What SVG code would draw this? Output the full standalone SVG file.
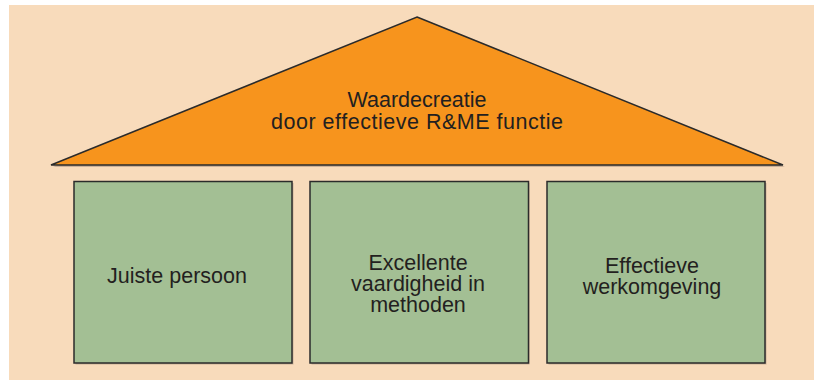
<svg xmlns="http://www.w3.org/2000/svg" width="814" height="380" viewBox="0 0 814 380">
<style>
.bg{fill:#f8dbbb}
.roof{fill:#f7941d;stroke:#2b2b2b;stroke-width:1.5;stroke-linejoin:miter}
.box{fill:#a3bf94;stroke:#2b2b2b;stroke-width:1.5}
.sh{fill:#b8a08a;opacity:0.7}
text{font-family:"Liberation Sans",Arial,sans-serif;font-size:21.5px;fill:#231f20;text-anchor:middle}
</style>
<rect x="0" y="0" width="814" height="380" fill="#ffffff"/>
<rect class="bg" x="9" y="5" width="805" height="375"/>
<g id="roof">
<polygon class="sh" points="418,19 785,167 53,167"/>
<polygon class="roof" points="417,17 783,165 51,165"/>
<text x="417" y="107">Waardecreatie</text>
<text x="417" y="129" textLength="292" lengthAdjust="spacing">door effectieve R&amp;ME functie</text>
</g>
<g id="pillar1">
<rect class="sh" x="75.5" y="183" width="218" height="181.5"/>
<rect class="box" x="74" y="181.5" width="218" height="181.5"/>
<text x="177" y="283">Juiste persoon</text>
</g>
<g id="pillar2">
<rect class="sh" x="311.5" y="183" width="218" height="181.5"/>
<rect class="box" x="310" y="181.5" width="218.5" height="181.5"/>
<text x="418" y="270">Excellente</text>
<text x="418" y="291">vaardigheid in</text>
<text x="418" y="312">methoden</text>
</g>
<g id="pillar3">
<rect class="sh" x="548.5" y="183" width="218" height="181.5"/>
<rect class="box" x="547" y="181.5" width="218" height="181.5"/>
<text x="652" y="273">Effectieve</text>
<text x="652" y="294">werkomgeving</text>
</g>
<g id="connectors"/>
</svg>
